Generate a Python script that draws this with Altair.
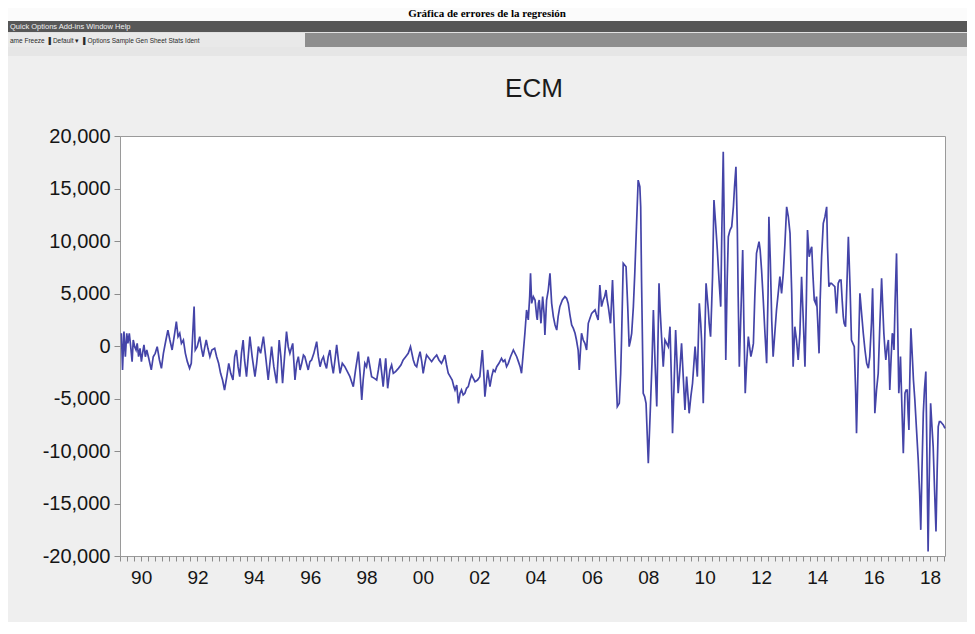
import altair as alt
import pandas as pd

# ECM residual series (decimal year, value), by period
ecm_1989_1993 = [
    (1989.30, 1210), (1989.34, -2280), (1989.39, 1370), (1989.44, -1020), (1989.49, 1210),
    (1989.53, 250), (1989.58, 1210), (1989.63, -60), (1989.68, -1490), (1989.72, 570),
    (1989.77, -60), (1989.82, -380), (1989.86, 250), (1989.91, -1020), (1989.96, -220),
    (1990.01, -1490), (1990.05, -700), (1990.10, 100), (1990.15, -1020), (1990.20, -380),
    (1990.27, -1170), (1990.36, -2280), (1990.43, -1020), (1990.50, -700), (1990.57, -60),
    (1990.65, -1330), (1990.72, -2130), (1990.79, -700), (1990.88, 570), (1990.95, 1520),
    (1991.02, 570), (1991.10, -380), (1991.19, 1210), (1991.25, 2320), (1991.31, 890),
    (1991.37, 1210), (1991.43, 250), (1991.50, 570), (1991.57, -700), (1991.64, -1490),
    (1991.72, -2130), (1991.78, -1650), (1991.88, 3750), (1991.92, -380), (1991.99, -60),
    (1992.08, 890), (1992.14, -220), (1992.20, -1020), (1992.25, -220), (1992.31, 570),
    (1992.37, -220), (1992.44, -1020), (1992.51, -380), (1992.61, -220), (1992.68, -1020),
    (1992.75, -1650), (1992.82, -2600), (1992.89, -3240), (1992.96, -4190), (1993.04, -2920),
    (1993.11, -1650), (1993.18, -2600), (1993.26, -3240), (1993.32, -1020), (1993.38, -380),
    (1993.44, -1970), (1993.50, -2920), (1993.56, -700), (1993.62, 570), (1993.67, -1330),
]
ecm_1993_1998 = [
    (1993.74, -2920), (1993.80, -1020), (1993.86, 890), (1993.94, -1020), (1994.04, -2920),
    (1994.10, -1650), (1994.16, -60), (1994.24, -700), (1994.34, 890), (1994.42, -1020),
    (1994.51, -3240), (1994.63, -60), (1994.71, -1970), (1994.81, -3550), (1994.90, 570),
    (1994.96, -1020), (1995.02, -3550), (1995.09, -1020), (1995.16, 1370), (1995.22, -60),
    (1995.28, -700), (1995.38, 250), (1995.46, -3240), (1995.52, -1650), (1995.58, -1020),
    (1995.64, -2280), (1995.70, -1650), (1995.76, -860), (1995.81, -1020), (1995.93, -2280),
    (1995.99, -1490), (1996.05, -1330), (1996.13, -700), (1996.23, 410), (1996.29, -1020),
    (1996.35, -1970), (1996.41, -1330), (1996.47, -1020), (1996.52, -1650), (1996.58, -2130),
    (1996.64, -1020), (1996.70, -380), (1996.76, -1650), (1996.82, -2600), (1996.88, -1330),
    (1996.94, 100), (1997.00, -1330), (1997.06, -2600), (1997.14, -1650), (1997.23, -1970),
    (1997.32, -2440), (1997.41, -2920), (1997.47, -3400), (1997.53, -3870), (1997.61, -2280),
    (1997.71, -540), (1997.77, -2600), (1997.83, -5140), (1997.88, -3240), (1997.94, -1650),
    (1998.00, -1970), (1998.06, -1020),
]
ecm_1998_2003 = [
    (1998.18, -2920), (1998.28, -3080), (1998.36, -3240), (1998.42, -2280), (1998.48, -1170),
    (1998.54, -2600), (1998.59, -3870), (1998.68, -1170), (1998.75, -4030), (1998.83, -2280),
    (1998.89, -1810), (1998.95, -2600), (1999.03, -2440), (1999.13, -2130), (1999.22, -1810),
    (1999.30, -1330), (1999.39, -1020), (1999.48, -700), (1999.56, -60), (1999.66, -1330),
    (1999.72, -1810), (1999.78, -1970), (1999.84, -1170), (1999.90, -540), (1999.96, -1490),
    (2000.01, -2600), (2000.07, -1650), (2000.13, -860), (2000.22, -1170), (2000.31, -1490),
    (2000.39, -1170), (2000.49, -860), (2000.57, -1330), (2000.66, -1650), (2000.72, -1330),
    (2000.78, -860), (2000.84, -1810), (2000.90, -2600), (2000.97, -2920), (2001.04, -3240),
    (2001.10, -3870), (2001.14, -4190), (2001.20, -3710), (2001.26, -5460), (2001.32, -4510),
    (2001.37, -4190), (2001.43, -4660), (2001.49, -4510), (2001.55, -4030), (2001.61, -3870),
    (2001.67, -3240), (2001.73, -2760), (2001.79, -3080), (2001.85, -3400), (2001.94, -3240),
    (2002.02, -2920), (2002.11, -380), (2002.16, -2600), (2002.20, -4820), (2002.25, -3550),
    (2002.30, -2280), (2002.34, -3080), (2002.38, -3870), (2002.44, -2920), (2002.50, -2280),
    (2002.56, -2440), (2002.62, -1970), (2002.70, -1650), (2002.79, -1170), (2002.85, -1490),
    (2002.91, -1330), (2002.97, -1970), (2003.03, -1650), (2003.11, -1020), (2003.21, -380),
    (2003.27, -700), (2003.33, -1020), (2003.39, -1490), (2003.45, -1970), (2003.50, -2600),
    (2003.56, -700), (2003.62, 1210),
]
ecm_2003_2007 = [
    (2003.68, 3430), (2003.74, 2480), (2003.79, 4700), (2003.82, 6920), (2003.86, 4060),
    (2003.92, 4700), (2003.98, 4380), (2004.04, 2800), (2004.06, 2480), (2004.10, 4060),
    (2004.13, 4380), (2004.19, 2160), (2004.25, 4700), (2004.30, 3110), (2004.33, 1050),
    (2004.39, 4380), (2004.45, 5330), (2004.51, 6920), (2004.57, 4060), (2004.63, 2800),
    (2004.69, 2000), (2004.75, 1520), (2004.80, 2800), (2004.86, 3750), (2004.95, 4380),
    (2005.04, 4700), (2005.10, 4540), (2005.16, 4060), (2005.22, 2950), (2005.28, 2000),
    (2005.34, 1680), (2005.40, 1210), (2005.45, 570), (2005.51, -380), (2005.55, -2280),
    (2005.60, -60), (2005.63, 1210), (2005.69, 570), (2005.75, 250), (2005.81, -380),
    (2005.87, 2160), (2005.93, 2640), (2005.99, 3110), (2006.05, 3270), (2006.11, 3430),
    (2006.16, 2950), (2006.22, 2480), (2006.28, 5810), (2006.34, 3750), (2006.40, 4380),
    (2006.45, 4700), (2006.50, 5330), (2006.54, 4380), (2006.58, 3750), (2006.66, 2160),
    (2006.73, 6280), (2006.79, 1840), (2006.85, -2600), (2006.90, -5770), (2006.97, -5460),
    (2007.02, -2600), (2007.05, 570), (2007.11, 7870), (2007.21, 7550), (2007.27, 3750),
    (2007.32, -60), (2007.37, 570), (2007.41, 1210), (2007.47, 3750), (2007.52, 6920),
    (2007.58, 11360), (2007.64, 15800), (2007.70, 15170), (2007.73, 13260),
]
ecm_2007_2011 = [
    (2007.76, 6280), (2007.82, -4500), (2007.87, -4820), (2007.92, -5460), (2008.00, -11170),
    (2008.08, -5460), (2008.13, -1650), (2008.18, 3430), (2008.24, -1650), (2008.30, -5770),
    (2008.34, -60), (2008.38, 5970), (2008.42, 3430), (2008.47, 890), (2008.53, -1970),
    (2008.59, 570), (2008.65, 250), (2008.71, -60), (2008.77, 1840), (2008.82, -3240),
    (2008.86, -8310), (2008.92, -3240), (2008.97, 1520), (2009.02, -1650), (2009.06, -4500),
    (2009.12, -2280), (2009.18, 250), (2009.24, -2920), (2009.30, -6090), (2009.36, -2920),
    (2009.41, -4820), (2009.45, -6410), (2009.51, -4820), (2009.57, -3550), (2009.66, -60),
    (2009.74, -2920), (2009.81, 4060), (2009.86, 2160), (2009.89, 570), (2009.95, -5460),
    (2010.00, 250), (2010.05, 5970), (2010.09, 4700), (2010.13, 3430), (2010.16, 2160),
    (2010.21, 890), (2010.25, 4060), (2010.28, 6600), (2010.33, 13900), (2010.38, 12000),
    (2010.45, 9140), (2010.51, 6280), (2010.57, 3750), (2010.61, 11040), (2010.66, 18500),
    (2010.71, 8500), (2010.75, -1330), (2010.80, 6280), (2010.84, 10410), (2010.90, 11040),
    (2010.96, 11360), (2011.02, 13260), (2011.06, 15170), (2011.11, 17070), (2011.16, 11040),
    (2011.19, 4700), (2011.23, -1970), (2011.29, 3430), (2011.35, 9140), (2011.39, 2480),
    (2011.44, -4500), (2011.49, -1650), (2011.55, 890), (2011.61, -380), (2011.64, -1010),
    (2011.69, -380), (2011.73, 250), (2011.78, 4700),
]
ecm_2011_2015 = [
    (2011.84, 8820), (2011.93, 9930), (2011.97, 9140), (2012.02, 7240), (2012.08, 4380),
    (2012.14, 1210), (2012.20, -1650), (2012.25, 5010), (2012.28, 12310), (2012.33, 8190),
    (2012.38, 2480), (2012.43, -1010), (2012.49, 1210), (2012.55, 3430), (2012.61, 5010),
    (2012.67, 6600), (2012.73, 5010), (2012.79, 6920), (2012.85, 9780), (2012.91, 13260),
    (2012.97, 12310), (2013.03, 10730), (2013.09, 5010), (2013.14, -1970), (2013.20, 1840),
    (2013.26, 570), (2013.32, -1330), (2013.38, 1210), (2013.44, 6600), (2013.50, 2480),
    (2013.56, -1970), (2013.61, 4380), (2013.65, 11040), (2013.71, 8500), (2013.76, 9140),
    (2013.80, 9460), (2013.84, 6920), (2013.89, 4380), (2013.94, 4060), (2013.97, 4700),
    (2014.01, 2480), (2014.06, -700), (2014.10, 4380), (2014.15, 8500), (2014.21, 11680),
    (2014.27, 12310), (2014.33, 13260), (2014.36, 9460), (2014.41, 5650), (2014.46, 5970),
    (2014.50, 5970), (2014.56, 5810), (2014.62, 5650), (2014.68, 3110), (2014.74, 5970),
    (2014.79, 6280), (2014.84, 6280), (2014.88, 4380), (2014.92, 2790), (2014.95, 2160),
    (2015.00, 1840), (2015.05, 5970), (2015.10, 10410), (2015.16, 5650), (2015.21, 570),
    (2015.26, 250), (2015.31, -60), (2015.36, -4500), (2015.39, -8310), (2015.45, -1330),
    (2015.51, 5010),
]
ecm_2015_2018 = [
    (2015.58, 2790), (2015.63, 1210), (2015.69, -380), (2015.75, -1650), (2015.81, -2120),
    (2015.86, -1010), (2015.92, 2160), (2015.96, 5490), (2016.01, -1010), (2016.04, -6410),
    (2016.10, -4190), (2016.16, -2600), (2016.22, 2160), (2016.28, 6440), (2016.33, 3110),
    (2016.36, 1210), (2016.40, -380), (2016.43, -1330), (2016.48, -60), (2016.52, 570),
    (2016.55, -1970), (2016.57, -4190), (2016.62, -1010), (2016.66, 1210), (2016.69, 890),
    (2016.72, -380), (2016.76, 4380), (2016.81, 8820), (2016.85, 2160), (2016.89, -4500),
    (2016.93, -2600), (2016.95, -1010), (2017.00, -5770), (2017.05, -10220), (2017.08, -7360),
    (2017.11, -4500), (2017.15, -4190), (2017.19, -4190), (2017.22, -6410), (2017.25, -8000),
    (2017.28, -3240), (2017.32, 1680), (2017.37, -1010), (2017.41, -3240), (2017.46, -5140),
    (2017.52, -8000), (2017.58, -10850), (2017.63, -14020), (2017.67, -17510), (2017.71, -12120),
    (2017.76, -6410), (2017.80, -4190), (2017.85, -2440), (2017.89, -10530), (2017.93, -19580),
    (2017.97, -12760), (2018.02, -5460), (2018.06, -7360), (2018.11, -9580), (2018.16, -13710),
    (2018.21, -17670), (2018.25, -12120), (2018.29, -7680), (2018.33, -7200), (2018.37, -7200),
    (2018.42, -7360), (2018.47, -7520), (2018.53, -7840),
]

segments = [ecm_1989_1993, ecm_1993_1998, ecm_1998_2003, ecm_2003_2007,
            ecm_2007_2011, ecm_2011_2015, ecm_2015_2018]
df = pd.DataFrame([{"t": t, "v": v} for seg in segments for t, v in seg])

y_ticks = [-20000, -15000, -10000, -5000, 0, 5000, 10000, 15000, 20000]
x_ticks = [1989.25 + 0.25 * i for i in range(118)]

W, H = 825, 420
FONT = "Liberation Sans"

line = alt.Chart(df).mark_line(color="#4444a8", strokeWidth=1.7).encode(
    x=alt.X("t:Q",
            scale=alt.Scale(domain=[1989.25, 2018.53], nice=False, zero=False),
            axis=alt.Axis(values=x_ticks, title=None, grid=False, domain=False,
                          tickSize=5, tickColor="#8c8c8c", labelOverlap=False,
                          labelFlush=False, labelFont=FONT, labelFontSize=19,
                          labelColor="#151515", labelPadding=7,
                          labelExpr="datum.value % 2 === 0 ? ((datum.value % 100) < 10 ? '0' : '') + (datum.value % 100) : ''")),
    y=alt.Y("v:Q",
            scale=alt.Scale(domain=[-20000, 20000], nice=False),
            axis=alt.Axis(values=y_ticks, title=None, grid=False, domain=False,
                          tickSize=6, tickColor="#8c8c8c", labelFont=FONT,
                          labelFontSize=20, labelColor="#151515", labelPadding=4,
                          labelExpr="replace(format(datum.value, ','), '\u2212', '-')")),
)

one = alt.Data(values=[{}])

def band(x0, x1, y0, y1, color):
    return alt.Chart(one).mark_rect(color=color).encode(
        x=alt.value(x0), x2=alt.value(x1), y=alt.value(y0), y2=alt.value(y1))

def label(txt, x, y, size, color, font=FONT, weight="normal", align="left"):
    return alt.Chart(one).mark_text(text=txt, font=font, fontSize=size, color=color,
                                     fontWeight=weight, align=align, baseline="alphabetic").encode(
        x=alt.value(x), y=alt.value(y))

chrome = [
    band(-120, 860, -128, -115, "#fbfbfb"),
    band(-120, 860, -115, -104, "#575757"),
    band(-120, 860, -104, -103, "#e2e2e2"),
    band(-120, 185, -103, -89, "#e9e9e9"),
    band(185, 860, -103, -89, "#8e8e8e"),
    band(-120, 860, -89, -80, "#e6e6e6"),
    label("Gráfica de errores de la regresión", 367, -119, 11, "#000000",
          font="Liberation Serif", weight="bold", align="center"),
    label("Quick   Options   Add-ins   Window   Help", -110, -107, 7.5, "#f2f2f2"),
    label("ame  Freeze  \u2590 Default       \u25be \u2590 Options  Sample  Gen  Sheet  Stats  Ident",
          -110, -93, 6.5, "#2a2a2a"),
    label("ECM", 414, -39, 26, "#1a1a1a", align="center"),
]

chart = alt.layer(*chrome, line).properties(
    width=W, height=H,
    autosize=alt.AutoSizeParams(type="none"),
    padding={"left": 112, "top": 128, "right": 22, "bottom": 66},
    background="#efefef",
).configure_view(stroke="#9a9a9a", strokeWidth=1, fill="white")

chart.save("out.html", embed_options={"renderer": "svg", "actions": False})
